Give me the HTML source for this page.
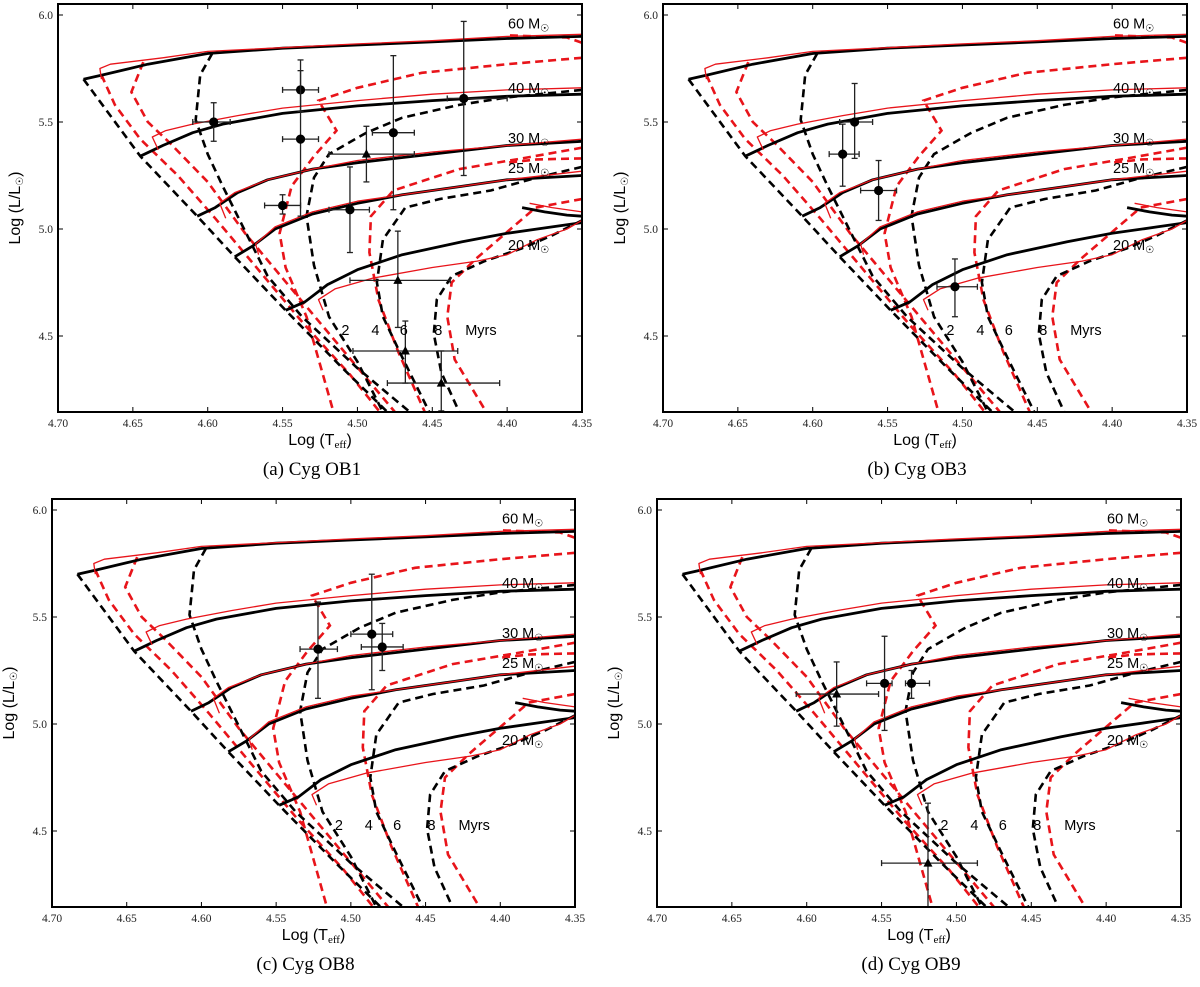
<!DOCTYPE html>
<html><head><meta charset="utf-8"><style>
html,body{margin:0;padding:0;background:#fff;}
svg{display:block;}
text{font-family:"Liberation Sans",sans-serif;}
.tick{font-family:"Liberation Serif",serif;font-size:11.5px;fill:#222;}
.cap{font-family:"Liberation Serif",serif;font-size:19px;fill:#000;}
</style></head><body>
<svg id="fig" width="1200" height="987" viewBox="0 0 1200 987" xmlns="http://www.w3.org/2000/svg"></svg>
<script>
// ---- shared model data (logTeff, logL) ----
const blackTrackMasses = ["60","40","30","25","20"];
const blackTracks = [
 [[4.683,5.70],[4.67,5.72],[4.64,5.77],[4.60,5.82],[4.55,5.845],[4.50,5.86],[4.45,5.875],[4.40,5.89],[4.35,5.90]],
 [[4.645,5.34],[4.63,5.39],[4.61,5.45],[4.59,5.49],[4.55,5.54],[4.50,5.575],[4.45,5.60],[4.40,5.62],[4.35,5.63]],
 [[4.607,5.06],[4.595,5.10],[4.58,5.17],[4.56,5.23],[4.53,5.28],[4.50,5.31],[4.45,5.35],[4.40,5.39],[4.35,5.41]],
 [[4.582,4.87],[4.57,4.92],[4.555,5.00],[4.53,5.07],[4.50,5.12],[4.47,5.16],[4.43,5.20],[4.40,5.23],[4.35,5.25]],
 [[4.548,4.62],[4.535,4.66],[4.52,4.74],[4.50,4.81],[4.47,4.88],[4.43,4.94],[4.40,4.98],[4.37,5.01],[4.35,5.03]]
];
const blackHook = [[4.39,5.10],[4.375,5.08],[4.36,5.065],[4.35,5.06]];
const redTracks = [
 [[4.671,5.70],[4.672,5.75],[4.665,5.77],[4.63,5.80],[4.60,5.83],[4.50,5.865],[4.45,5.88],[4.40,5.90],[4.35,5.91]],
 [[4.633,5.37],[4.637,5.43],[4.628,5.46],[4.61,5.49],[4.58,5.53],[4.55,5.565],[4.50,5.60],[4.45,5.63],[4.40,5.65],[4.35,5.66]],
 [[4.588,5.05],[4.592,5.12],[4.582,5.17],[4.56,5.23],[4.53,5.28],[4.50,5.32],[4.45,5.36],[4.40,5.39],[4.35,5.42]],
 [[4.566,4.88],[4.568,4.93],[4.555,5.01],[4.53,5.08],[4.50,5.13],[4.45,5.18],[4.40,5.23],[4.35,5.27]],
 [[4.523,4.62],[4.526,4.67],[4.515,4.72],[4.49,4.77],[4.45,4.82],[4.42,4.85],[4.40,4.88],[4.38,4.95],[4.36,5.00],[4.35,5.04]]
];
const redHook = [[4.385,5.12],[4.37,5.10],[4.35,5.08]];
const blackIsochrones = [
 [[4.683,5.70],[4.645,5.34],[4.607,5.06],[4.582,4.87],[4.548,4.62],[4.51,4.35],[4.48,4.145]],
 [[4.597,5.82],[4.605,5.72],[4.608,5.51],[4.60,5.35],[4.590,5.20],[4.575,4.99],[4.560,4.78],[4.537,4.59],[4.50,4.35],[4.465,4.145]],
 [[4.35,5.65],[4.40,5.615],[4.432,5.58],[4.47,5.52],[4.494,5.45],[4.519,5.35],[4.529,5.24],[4.534,5.06],[4.529,4.83],[4.519,4.59],[4.50,4.38],[4.483,4.145]],
 [[4.35,5.29],[4.38,5.24],[4.411,5.18],[4.445,5.14],[4.468,5.10],[4.483,4.95],[4.487,4.75],[4.483,4.59],[4.47,4.40],[4.452,4.145]],
 [[4.35,5.04],[4.37,4.97],[4.39,4.91],[4.415,4.85],[4.437,4.78],[4.447,4.67],[4.449,4.51],[4.444,4.33],[4.432,4.145]]
];
const redIsochrones = [
 [[4.643,5.78],[4.651,5.64],[4.64,5.50],[4.625,5.40],[4.60,5.22],[4.575,4.98],[4.55,4.77],[4.52,4.52],[4.49,4.27],[4.475,4.145]],
 [[4.671,5.72],[4.662,5.58],[4.645,5.42],[4.62,5.25],[4.595,5.05],[4.565,4.80],[4.535,4.55],[4.505,4.32],[4.485,4.145]],
 [[4.35,5.80],[4.40,5.77],[4.457,5.73],[4.50,5.66],[4.526,5.60],[4.514,5.46],[4.529,5.34],[4.544,5.20],[4.552,4.98],[4.548,4.82],[4.534,4.59],[4.516,4.145]],
 [[4.35,5.38],[4.39,5.33],[4.432,5.28],[4.476,5.18],[4.491,5.06],[4.492,4.89],[4.486,4.67],[4.473,4.43],[4.455,4.145]],
 [[4.35,5.14],[4.381,5.10],[4.401,4.98],[4.421,4.86],[4.437,4.75],[4.440,4.59],[4.435,4.39],[4.414,4.145]],
 [[4.35,5.33],[4.38,5.325],[4.40,5.31]],
 [[4.35,5.87],[4.36,5.895],[4.40,5.905]]
];
const xTickValues = [4.70,4.65,4.60,4.55,4.50,4.45,4.40,4.35];
const xTickLabels = ["4.70","4.65","4.60","4.55","4.50","4.45","4.40","4.35"];
const yTickValues = [4.5,5.0,5.5,6.0];
const yTickLabels = ["4.5","5.0","5.5","6.0"];
const ageLabels = ["2","4","6","8","Myrs"];
const ageLabelT = [4.508,4.488,4.469,4.446,4.428];
const massLabelL = [5.96,5.66,5.425,5.285,4.925];

// ---- observed stars per panel: [logT, logL, Tlo, Thi, Llo, Lhi, marker] ----
const starsOB1 = [
 [4.596,5.50,4.585,4.610,5.41,5.59,"o"],
 [4.538,5.65,4.526,4.550,5.55,5.79,"o"],
 [4.538,5.42,4.526,4.550,5.06,5.74,"o"],
 [4.550,5.11,4.538,4.562,5.07,5.16,"o"],
 [4.505,5.09,4.492,4.519,4.89,5.29,"o"],
 [4.494,5.35,4.462,4.519,5.22,5.48,"^"],
 [4.476,5.45,4.462,4.490,5.09,5.81,"o"],
 [4.429,5.61,4.400,4.440,5.25,5.97,"o"],
 [4.473,4.76,4.438,4.505,4.54,4.99,"^"],
 [4.468,4.43,4.433,4.503,4.28,4.57,"^"],
 [4.444,4.28,4.405,4.480,4.15,4.43,"^"]
];
const starsOB3 = [
 [4.572,5.50,4.560,4.582,5.33,5.68,"o"],
 [4.580,5.35,4.569,4.589,5.20,5.49,"o"],
 [4.556,5.18,4.544,4.568,5.04,5.32,"o"],
 [4.505,4.73,4.490,4.517,4.59,4.86,"o"]
];
const starsOB8 = [
 [4.522,5.35,4.509,4.534,5.12,5.57,"o"],
 [4.486,5.42,4.472,4.500,5.16,5.70,"o"],
 [4.479,5.36,4.465,4.493,5.25,5.47,"o"]
];
const starsOB9 = [
 [4.580,5.14,4.552,4.607,4.99,5.29,"^"],
 [4.548,5.19,4.543,4.560,4.97,5.41,"o"],
 [4.530,5.19,4.518,4.534,5.12,5.25,"o"],
 [4.519,4.35,4.486,4.550,4.145,4.63,"^"]
];
const panelCaptions = ["(a)  Cyg OB1","(b)  Cyg OB3","(c)  Cyg OB8","(d)  Cyg OB9"];

const NS="http://www.w3.org/2000/svg";
const fig=document.getElementById('fig');
function mk(tag,attrs,parent){const e=document.createElementNS(NS,tag);for(const k in attrs)e.setAttribute(k,attrs[k]);(parent||fig).appendChild(e);return e;}

function panel(idx,left,top,w,h,stars,key){
  const T0=4.70,T1=4.35,Ltop=6.0,tick6=top+11,ppd=214;
  const sx=t=>left+(T0-t)/(T0-T1)*w;
  const sy=l=>tick6+(Ltop-l)*ppd;
  const g=mk('g',{});
  
  
  const cid='clip'+idx;
  const cp=mk('clipPath',{id:cid},g); mk('rect',{x:left,y:top,width:w,height:h},cp);
  const plot=mk('g',{'clip-path':'url(#'+cid+')'},g);
  
  
  const pts=arr=>arr.map(p=>sx(p[0]).toFixed(1)+','+sy(p[1]).toFixed(1)).join(' ');
  redIsochrones.forEach((c,i)=>{const e=mk('polyline',{points:pts(c),fill:'none',stroke:'#e8141a','stroke-width':2.6,'stroke-dasharray':'8,5'},plot);
    
    });
  blackIsochrones.forEach((c,i)=>{const e=mk('polyline',{points:pts(c),fill:'none',stroke:'#000','stroke-width':2.6,'stroke-dasharray':'8,5'},plot);
    
    });
  blackTracks.forEach((c,i)=>{const e=mk('polyline',{points:pts(c),fill:'none',stroke:'#000','stroke-width':2.8,'stroke-linejoin':'round'},plot);
    
    });
  const bh=mk('polyline',{points:pts(blackHook),fill:'none',stroke:'#000','stroke-width':2.8},plot);
  
  
  redTracks.forEach((c,i)=>{const e=mk('polyline',{points:pts(c),fill:'none',stroke:'#e8141a','stroke-width':1.3,'stroke-linejoin':'round'},plot);
    
    });
  const rh=mk('polyline',{points:pts(redHook),fill:'none',stroke:'#e8141a','stroke-width':1.3},plot);
  
  
  // stars
  stars.forEach((s,i)=>{
    const sg=mk('g',{},plot);
    
    
    const x=sx(s[0]),y=sy(s[1]),xl=sx(s[3]),xr=sx(s[2]),yt=sy(s[5]),yb=sy(s[4]);
    const st={stroke:'#222','stroke-width':1.3};
    mk('line',Object.assign({x1:xl,y1:y,x2:xr,y2:y},st),sg);
    mk('line',Object.assign({x1:x,y1:yt,x2:x,y2:yb},st),sg);
    mk('line',Object.assign({x1:xl,y1:y-3,x2:xl,y2:y+3},st),sg);
    mk('line',Object.assign({x1:xr,y1:y-3,x2:xr,y2:y+3},st),sg);
    mk('line',Object.assign({x1:x-3,y1:yt,x2:x+3,y2:yt},st),sg);
    mk('line',Object.assign({x1:x-3,y1:yb,x2:x+3,y2:yb},st),sg);
    if(s[6]==='o') mk('circle',{cx:x,cy:y,r:4.6,fill:'#000'},sg);
    else mk('polygon',{points:`${x},${y-5} ${x-4.5},${y+3.5} ${x+4.5},${y+3.5}`,fill:'#000'},sg);
  });
  // frame
  const fr=mk('rect',{x:left,y:top,width:w,height:h,fill:'none',stroke:'#000','stroke-width':2},g);
  
  
  xTickValues.forEach((v,i)=>{
    const x=sx(v);
    mk('line',{x1:x,y1:top+h,x2:x,y2:top+h-5,stroke:'#000','stroke-width':1},g);
    mk('line',{x1:x,y1:top,x2:x,y2:top+5,stroke:'#000','stroke-width':1},g);
    const t=mk('text',{x:x,y:top+h+15,'text-anchor':'middle',class:'tick'},g);t.textContent=xTickLabels[i];
    
    
  });
  yTickValues.forEach((v,i)=>{
    const y=sy(v);
    mk('line',{x1:left,y1:y,x2:left+5,y2:y,stroke:'#000','stroke-width':1},g);
    mk('line',{x1:left+w,y1:y,x2:left+w-5,y2:y,stroke:'#000','stroke-width':1},g);
    const t=mk('text',{x:left-5,y:y+4,'text-anchor':'end',class:'tick'},g);t.textContent=yTickLabels[i];
    
    
  });
  // mass labels
  blackTrackMasses.forEach((m,i)=>{
    const t=mk('text',{x:left+450,y:sy(massLabelL[i])+5,'font-size':14.5,fill:'#000'},g);
    t.innerHTML=m+' M<tspan font-size="10" dy="3">☉</tspan>';
    
    
  });
  ageLabels.forEach((a,i)=>{
    const t=mk('text',{x:sx(ageLabelT[i]),y:sy(4.5)-1,'font-size':14.5,fill:'#000','text-anchor':i<4?'middle':'start'},g);
    t.textContent=a;
    
    
  });
  const xl=mk('text',{x:left+w/2,y:top+h+33,'text-anchor':'middle','font-size':16,fill:'#000'},g);
  xl.innerHTML='Log (T<tspan font-size="11" dy="3" font-family="Liberation Serif">eff</tspan><tspan dy="-3">)</tspan>';
  
  
  const yl=mk('text',{x:0,y:0,'text-anchor':'middle','font-size':16,fill:'#000',transform:`translate(${left-38},${top+h/2}) rotate(-90)`},g);
  yl.innerHTML='Log (L/L<tspan font-size="10" dy="3">☉</tspan><tspan dy="-3">)</tspan>';
  
  
  const cap=mk('text',{x:left+w/2-8,y:top+h+63,'text-anchor':'middle',class:'cap'},g);
  cap.textContent=panelCaptions[idx];
  
  
}
panel(0,58,4,524,408,starsOB1,'cyg-ob1');
panel(1,663,4,524,408,starsOB3,'cyg-ob3');
panel(2,52,499,523,408,starsOB8,'cyg-ob8');
panel(3,657,499,524,408,starsOB9,'cyg-ob9');
</script>
</body></html>
